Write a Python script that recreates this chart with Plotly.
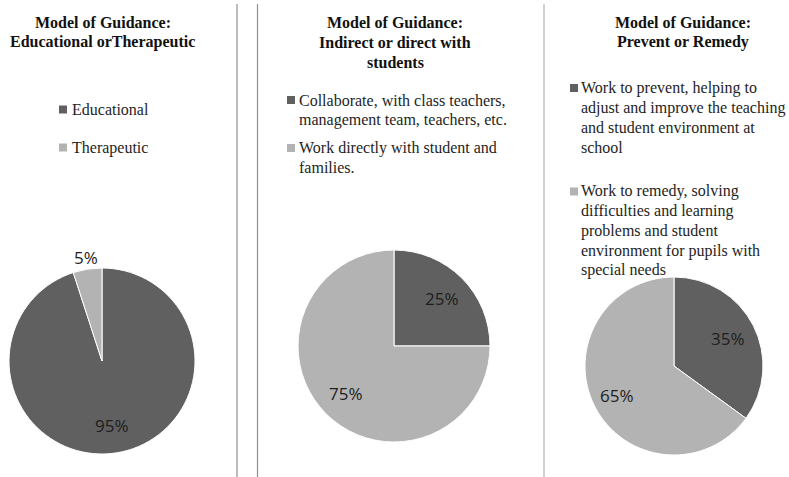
import math
import plotly.graph_objects as go

W, H = 789, 477

# ---- data -------------------------------------------------------------
titles = [
    ["Model of Guidance:", "Educational orTherapeutic"],
    ["Model of Guidance:", "Indirect or direct with", "students"],
    ["Model of Guidance:", "Prevent or Remedy"],
]

labels_1 = ["Educational", "Therapeutic"]
values_1 = [95, 5]

labels_2 = [
    "Collaborate, with class teachers,\nmanagement team, teachers, etc.",
    "Work directly with student and\nfamilies.",
]
values_2 = [25, 75]

labels_3 = [
    "Work to prevent, helping to\nadjust and improve the teaching\nand student environment at\nschool",
    "Work to remedy, solving\ndifficulties and learning\nproblems and student\nenvironment for pupils with\nspecial needs",
]
values_3 = [35, 65]

slice_colors = ["#606060", "#b3b3b3"]

# ---- layout helpers (pixel -> paper) ----------------------------------
def px(x):
    return x / W


def py(y):
    return 1 - y / H


SERIF = "Times New Roman, Liberation Serif, serif"
SANS = "Open Sans, Noto Sans, sans-serif"

panels = [
    # pie box (left, right, top, bottom), title centre x, legend marker x, text x,
    # legend entry y's, radial position of each percentage label (fraction of radius)
    dict(labels=labels_1, values=values_1, box=(9, 195, 268, 454), tx=103,
         mx=59, lx=70, ey=[109.5, 147.5], lr=[0.7, 1.13]),
    dict(labels=labels_2, values=values_2, box=(298, 490, 250, 442), tx=395,
         mx=287, lx=297, ey=[100, 148], lr=[0.7, 0.7]),
    dict(labels=labels_3, values=values_3, box=(585, 763, 277, 455), tx=683,
         mx=570, lx=579, ey=[88, 191.5], lr=[0.68, 0.72]),
]

LINE = 19.7

fig = go.Figure()
annotations = []
shapes = []

for i, p in enumerate(panels):
    l, r, t, b = p["box"]
    fig.add_trace(go.Pie(
        labels=[s.replace("\n", " ") for s in p["labels"]],
        values=p["values"],
        sort=False,
        direction="clockwise",
        rotation=0,
        marker=dict(colors=slice_colors, line=dict(color="#ffffff", width=1)),
        textinfo="none",
        domain=dict(x=[px(l), px(r)], y=[py(b), py(t)]),
        showlegend=False,
        hoverinfo="label+percent",
    ))

    # percentage labels placed on each slice's bisector
    cx, cy = (l + r) / 2, (t + b) / 2
    rad = (r - l) / 2
    total = sum(p["values"])
    start = 0.0
    for j, v in enumerate(p["values"]):
        mid = (start + v / 2) / total * 2 * math.pi
        start += v
        d = p["lr"][j] * rad
        annotations.append(dict(
            x=px(cx + d * math.sin(mid)), y=py(cy - d * math.cos(mid)),
            xref="paper", yref="paper",
            text=f"{round(100 * v / total)}%", showarrow=False,
            xanchor="center", yanchor="middle",
            font=dict(family=SANS, size=17, color="#1e1e1e"),
        ))

    # title lines
    for k, line in enumerate(titles[i]):
        annotations.append(dict(
            x=px(p["tx"]), y=py(23 + k * 19.5), xref="paper", yref="paper",
            text="<b>" + line + "</b>", showarrow=False,
            xanchor="center", yanchor="middle",
            font=dict(family=SERIF, size=16, color="#111111"),
        ))

    # legend entries
    for j, lab in enumerate(p["labels"]):
        y0 = p["ey"][j]
        shapes.append(dict(
            type="rect", xref="paper", yref="paper",
            x0=px(p["mx"]), x1=px(p["mx"] + 8),
            y0=py(y0 - 4), y1=py(y0 + 4),
            fillcolor=slice_colors[j], line=dict(width=0),
        ))
        for k, line in enumerate(lab.split("\n")):
            annotations.append(dict(
                x=px(p["lx"]), y=py(y0 + k * LINE), xref="paper", yref="paper",
                text=line, showarrow=False, xanchor="left", yanchor="middle",
                font=dict(family=SERIF, size=16, color="#1e1e1e"),
            ))

# panel separators
for x, c in [(237, "#8f8f8f"), (257.5, "#8f8f8f"), (544, "#c2c2c2")]:
    shapes.append(dict(
        type="line", xref="paper", yref="paper",
        x0=px(x), x1=px(x), y0=py(4), y1=py(477),
        line=dict(color=c, width=1.5 if x == 544 else 1.2),
    ))

fig.update_layout(
    width=W, height=H,
    margin=dict(l=0, r=0, t=0, b=0),
    paper_bgcolor="#ffffff",
    plot_bgcolor="#ffffff",
    annotations=annotations,
    shapes=shapes,
)

fig.write_html("out.html")
